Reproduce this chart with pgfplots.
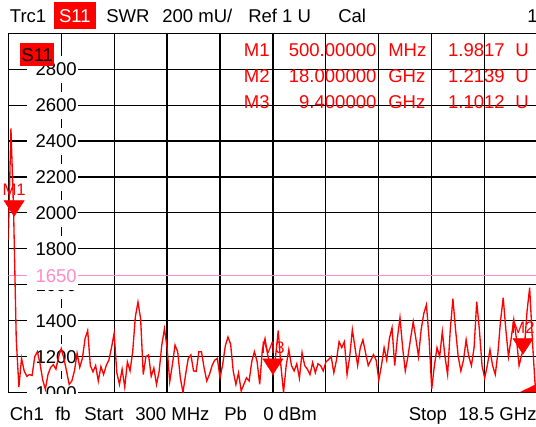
\documentclass[border=0pt]{standalone}
\usepackage{pgfplots}
\pgfplotsset{compat=1.18}
\usepackage{pgfplotstable}
\usepackage{fontspec}
\setmainfont{Liberation Sans}
\definecolor{trc}{RGB}{255,0,0}
\definecolor{lim}{RGB}{255,140,200}
\newcommand\vf{\fontsize{13.9pt}{15pt}\selectfont}
\tikzset{
  ybox/.style={fill=white, draw=none, inner sep=0pt, minimum width=38.25pt,
    minimum height=20.25pt, xshift=-6.5pt, yshift=-0.375pt},
  ylab/.style={anchor=base east, xshift=11.85pt, yshift=-4.97pt, inner sep=0pt, font=\vf}}
\pgfdeclareplotmark{mtri}{%
 \pgfpathmoveto{\pgfpoint{0pt}{0pt}}%
 \pgfpathlineto{\pgfpoint{-7.5pt}{11.6pt}}%
 \pgfpathlineto{\pgfpoint{7.5pt}{11.6pt}}%
 \pgfpathclose\pgfusepathqfillstroke}
\pgfplotstableread{
f v
300 1850
391 2470
482 2010
573 1300
664 1030
755 1190
846 1120
937 1090
1028 1100
1119 1095
1210 1200
1301 1227
1392 1160
1483 1070
1574 1018
1665 1100
1756 1140
1847 1155
1938 1130
2029 1200
2120 1245
2211 1190
2302 1120
2393 1045
2484 1064
2575 1120
2666 1218
2757 1140
2848 1190
2939 1300
3030 1345
3121 1150
3212 1115
3303 1150
3394 1064
3485 1145
3576 1100
3667 1150
3758 1180
3849 1250
3940 1330
4031 1110
4122 1045
4213 1130
4304 1030
4395 1170
4486 1120
4577 1227
4668 1420
4759 1504
4850 1410
4941 1100
5032 1200
5123 1209
5214 1090
5305 1136
5396 1045
5487 1118
5578 1264
5669 1355
5760 1250
5851 1060
5942 1155
6033 1264
6124 1227
6215 1082
6306 1000
6397 1100
6488 1190
6579 1209
6670 1120
6761 1118
6852 1227
6943 1227
7034 1136
7125 1064
7216 1100
7307 1150
7398 1180
7489 1190
7580 1082
7671 1155
7762 1260
7853 1309
7944 1270
8035 1118
8126 1045
8217 1109
8308 1009
8399 1045
8490 1082
8581 1064
8672 1173
8763 1227
8854 1173
8945 1045
9036 1240
9127 1300
9218 1209
9309 1150
9400 1101
9491 1200
9582 1345
9673 1150
9764 1000
9855 1150
9946 1239
10037 1150
10128 1120
10219 1160
10310 1080
10401 1222
10492 1150
10583 1130
10674 1100
10765 1167
10856 1110
10947 1160
11038 1150
11129 1120
11220 1170
11311 1183
11402 1200
11493 1110
11584 1180
11675 1283
11766 1250
11857 1283
11948 1100
12039 1200
12130 1350
12221 1250
12312 1150
12403 1250
12494 1294
12585 1220
12676 1150
12767 1180
12858 1211
12949 1180
13040 1070
13131 1150
13222 1250
13313 1180
13404 1300
13495 1361
13586 1150
13677 1300
13768 1417
13859 1250
13950 1120
14041 1200
14132 1300
14223 1394
14314 1300
14405 1200
14496 1350
14587 1440
14678 1489
14769 1300
14860 1020
14951 1150
15042 1250
15133 1200
15224 1339
15315 1200
15406 1100
15497 1350
15588 1522
15679 1350
15770 1200
15861 1120
15952 1180
16043 1294
16134 1200
16225 1150
16316 1250
16407 1506
16498 1350
16589 1150
16680 1080
16771 1150
16862 1239
16953 1150
17044 1100
17135 1220
17226 1400
17317 1528
17408 1350
17499 1200
17590 1300
17681 1406
17772 1300
17863 1150
17954 1210
18045 1250
18136 1450
18227 1583
18318 1300
18409 1056
18500 950
}\trace
\begin{document}
\begin{tikzpicture}
\useasboundingbox (0,0) rectangle (402pt,320.25pt);
\clip (0,0) rectangle (402pt,320.25pt);
\begin{axis}[
  at={(6.225pt,25.875pt)}, anchor=south west,
  scale only axis, width=396.975pt, height=269.4pt,
  xmin=300, xmax=18500, ymin=1000, ymax=3000,
  xtick={300,2120,3940,5760,7580,9400,11220,13040,14860,16680,18500},
  ytick={1000,1200,1400,1600,1800,2000,2200,2400,2600,2800,3000},
  xticklabels={}, yticklabels={},
  major tick length=0pt,
  grid=major, grid style={black, line width=0.9pt},
  axis line style={black, line width=1.1pt},
  clip mode=individual,
]
\addplot[lim, line width=0.9pt] coordinates {(300,1650) (18500,1650)};
\pgfplotsinvokeforeach{1000,1200,1400,1600,1800,2000,2200,2400,2600,2800}{
  \node[ybox] at (axis cs:2120,#1) {};
  \node[ylab] at (axis cs:2120,#1) {#1};
}
\node[ybox] at (axis cs:2120,1650) {};
\node[ylab, text=lim] at (axis cs:2120,1650) {1650};
\addplot[trc, line width=1pt] table[x=f, y=v] {\trace};
\addplot[fill=trc, draw=none] coordinates {(17860,1000) (18500,1000) (18500,1050)} -- cycle;
\addplot[trc, only marks, mark=mtri, mark options={fill=trc, draw=trc}]
  coordinates {(500,1981.7) (18000,1213.9) (9400,1101.2)};
\node[trc, anchor=base, yshift=15.75pt, inner sep=0pt, font=\fontsize{12.5pt}{14pt}\selectfont] at (axis cs:500,1981.7) {M1};
\node[trc, anchor=base, yshift=15.75pt, inner sep=0pt, font=\fontsize{12.5pt}{14pt}\selectfont] at (axis cs:18000,1213.9) {M2};
\node[trc, anchor=base, yshift=15.75pt, inner sep=0pt, font=\fontsize{12.5pt}{14pt}\selectfont] at (axis cs:9400,1101.2) {M3};
\end{axis}
\begin{scope}[yshift=320.25pt, x=0.75pt, y=-0.75pt, every node/.style={inner sep=0pt, font=\vf}]
  % footer mask
  \fill[white] (0,394) rectangle (540,430);
  % header
  \node[anchor=base west] at (9.6,23) {Trc1};
  \fill[trc] (54,1.7) rectangle (95.7,29);
  \node[anchor=base, text=white] at (74.9,23) {S11};
  \node[anchor=base west] at (106,23) {SWR};
  \node[anchor=base west] at (162,23) {200 mU/};
  \node[anchor=base west] at (248,23) {Ref 1 U};
  \node[anchor=base west] at (338,23) {Cal};
  \node[anchor=base west] at (527,23) {1};
  % trace label in plot
  \fill[trc] (20,43) rectangle (54.3,66);
  \node[anchor=base] at (37.2,62) {S11};
  % marker table
  \begin{scope}[every node/.append style={text=trc}]
  \node[anchor=base east] at (270,56.7) {M1};
  \node[anchor=base east] at (376.7,56.7) {500.00000};
  \node[anchor=base west] at (388,56.7) {MHz};
  \node[anchor=base east] at (505,56.7) {1.9817};
  \node[anchor=base west] at (515,56.7) {U};
  \node[anchor=base east] at (270,82.7) {M2};
  \node[anchor=base east] at (376.7,82.7) {18.000000};
  \node[anchor=base west] at (388,82.7) {GHz};
  \node[anchor=base east] at (505,82.7) {1.2139};
  \node[anchor=base west] at (515,82.7) {U};
  \node[anchor=base east] at (270,108.3) {M3};
  \node[anchor=base east] at (376.7,108.3) {9.400000};
  \node[anchor=base west] at (388,108.3) {GHz};
  \node[anchor=base east] at (505,108.3) {1.1012};
  \node[anchor=base west] at (515,108.3) {U};
  \end{scope}
  % footer
  \node[anchor=base west] at (9.6,420.8) {Ch1};
  \node[anchor=base west] at (55,420.8) {fb};
  \node[anchor=base west] at (84,420.8) {Start};
  \node[anchor=base west] at (135,420.8) {300 MHz};
  \node[anchor=base west] at (224,420.8) {Pb};
  \node[anchor=base west] at (263,420.8) {0 dBm};
  \node[anchor=base west] at (408.5,420.8) {Stop};
  \node[anchor=base west] at (458,420.8) {18.5 GHz};
\end{scope}
\end{tikzpicture}
\end{document}
